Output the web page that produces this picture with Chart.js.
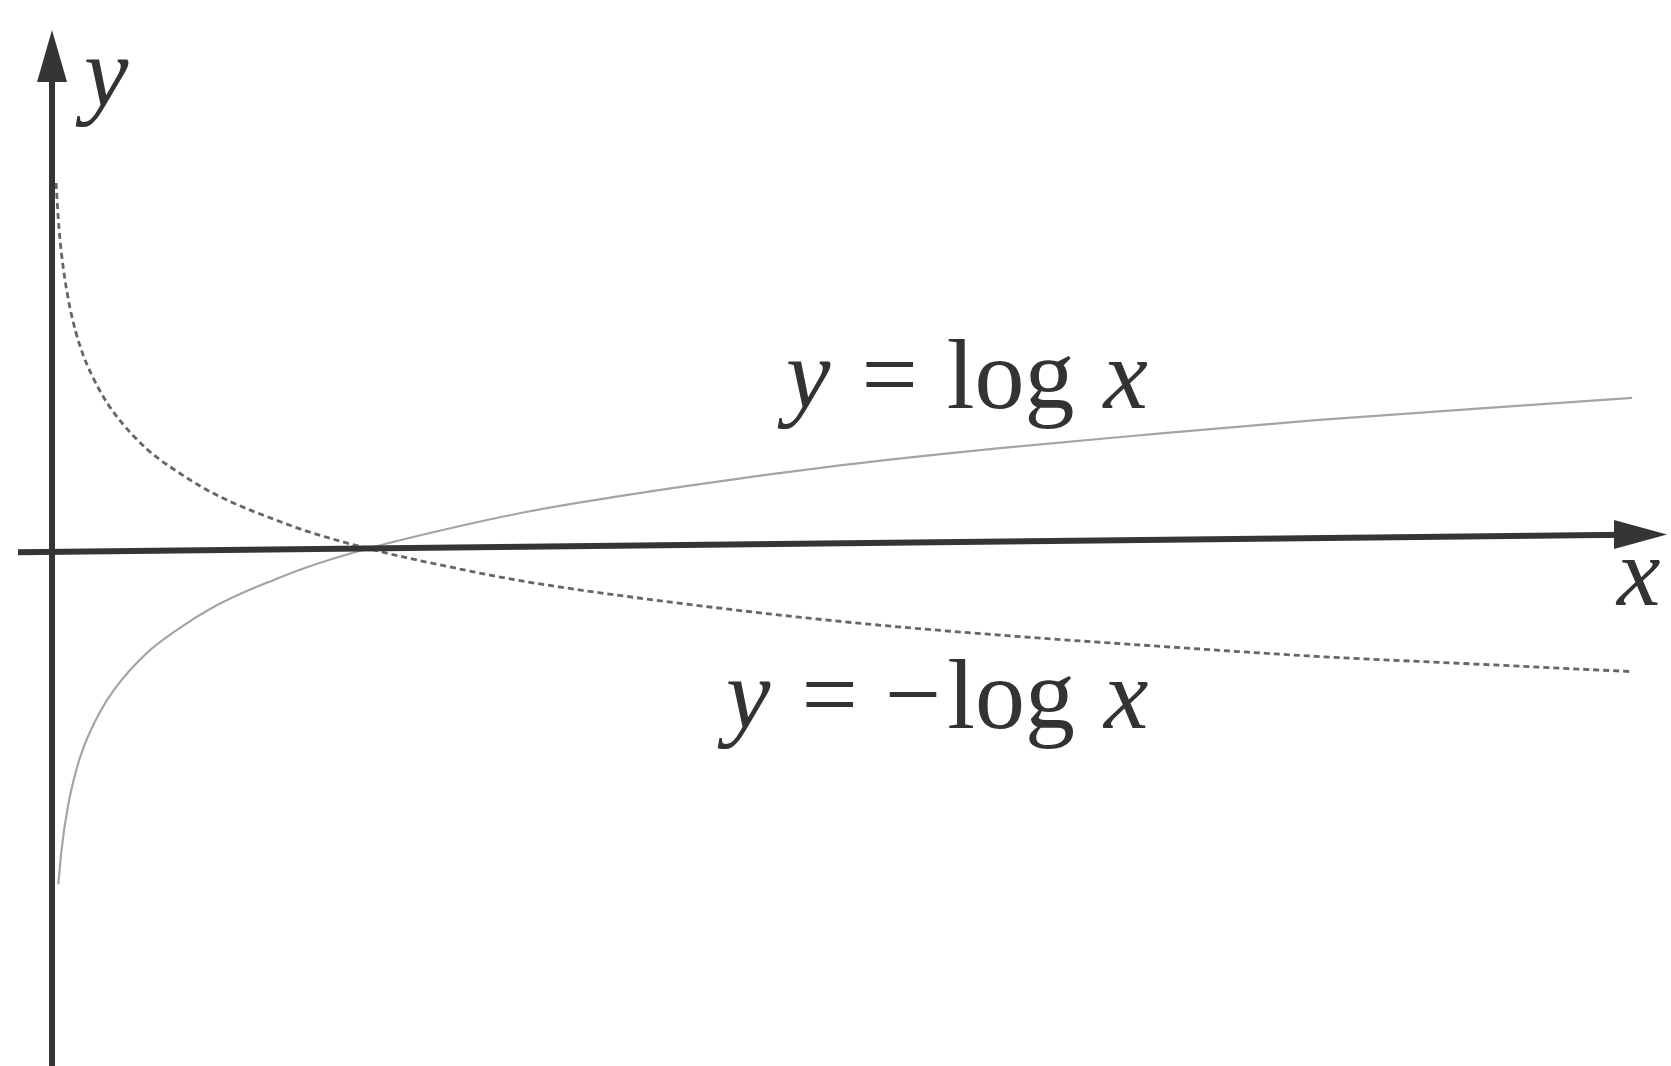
<!doctype html>
<html>
<head>
  <meta charset="utf-8">
  <script src="https://cdn.jsdelivr.net/npm/chart.js@4/dist/chart.umd.min.js"></script>
  <style>
    html, body { margin: 0; padding: 0; background: #fff; }
    #wrap { width: 1671px; height: 1066px; position: relative; }
  </style>
</head>
<body>
  <div id="wrap"><canvas id="canvas"></canvas></div>
  <script>
    // x positions where the curves are sampled
    const xs = [0.013, 0.02, 0.03, 0.05, 0.075, 0.1, 0.15, 0.2, 0.3, 0.4, 0.5, 0.6, 0.7, 0.8, 1.0,
                1.25, 1.5, 2, 2.5, 3, 3.5, 4, 4.5, 5];
    // y = log x (solid)
    const logY = [-4.34, -3.91, -3.51, -3.00, -2.59, -2.30, -1.90, -1.61, -1.20, -0.92, -0.69, -0.51,
                  -0.36, -0.22, 0, 0.22, 0.41, 0.69, 0.92, 1.10, 1.25, 1.39, 1.50, 1.61];
    // y = -log x (dashed)
    const negLogY = [4.34, 3.91, 3.51, 3.00, 2.59, 2.30, 1.90, 1.61, 1.20, 0.92, 0.69, 0.51,
                     0.36, 0.22, 0, -0.22, -0.41, -0.69, -0.92, -1.10, -1.25, -1.39, -1.50, -1.61];
    const solidStart = 1; // solid curve starts a little later, it hugs the y axis

    const toPoints = (ys, from) => xs.slice(from).map((x, i) => ({x: x, y: ys[i + from]}));

    const SERIF = '"Liberation Serif", "DejaVu Serif", serif';
    const SKEW = -0.0109; // the scanned figure's x axis runs slightly uphill

    // draws pieces of text with mixed italic / upright runs, gap = extra space after a run
    function drawRuns(ctx, runs, x, y, size) {
      let cx = x;
      runs.forEach(([txt, italic, gap]) => {
        ctx.font = (italic ? 'italic ' : '') + size + 'px ' + SERIF;
        ctx.fillText(txt, cx, y);
        cx += ctx.measureText(txt).width + (gap || 0);
      });
    }

    const skewPlugin = {
      id: 'skew',
      beforeDatasetsDraw(chart) {
        chart.ctx.save();
        chart.ctx.transform(1, SKEW, 0, 1, 0, 0);
      },
      afterDatasetsDraw(chart) {
        chart.ctx.restore();
      }
    };

    const axesPlugin = {
      id: 'axes',
      afterDatasetsDraw(chart) {
        const ctx = chart.ctx;
        const x0 = chart.scales.x.getPixelForValue(0);
        const y0 = chart.scales.y.getPixelForValue(0);
        const area = chart.chartArea;
        ctx.save();
        ctx.transform(1, SKEW, 0, 1, 0, 0);
        ctx.strokeStyle = '#353535';
        ctx.fillStyle = '#353535';
        ctx.lineWidth = 6;
        // x axis
        ctx.beginPath();
        ctx.moveTo(18, y0);
        ctx.lineTo(1625, y0);
        ctx.stroke();
        ctx.beginPath();
        ctx.moveTo(1667, y0);
        ctx.lineTo(1614, y0 - 15);
        ctx.lineTo(1614, y0 + 14);
        ctx.closePath();
        ctx.fill();
        ctx.restore();

        ctx.save();
        ctx.strokeStyle = '#353535';
        ctx.fillStyle = '#353535';
        ctx.lineWidth = 6;
        // y axis
        ctx.beginPath();
        ctx.moveTo(x0, area.bottom);
        ctx.lineTo(x0, 70);
        ctx.stroke();
        ctx.beginPath();
        ctx.moveTo(x0, 30);
        ctx.lineTo(x0 - 15, 82);
        ctx.lineTo(x0 + 15, 82);
        ctx.closePath();
        ctx.fill();

        // labels
        ctx.fillStyle = '#333';
        ctx.textBaseline = 'alphabetic';
        drawRuns(ctx, [['y', true]], 84, 106, 100);
        drawRuns(ctx, [['x', true]], 1617, 605, 98);
        drawRuns(ctx, [['y', true, 6], [' = ', false, 4], ['log ', false, 4], ['x', true]], 786, 408, 100);
        drawRuns(ctx, [['y', true, 6], [' = ', false, 2], ['\u2212', false, 6], ['log ', false, 4], ['x', true]], 726, 728, 100);
        ctx.restore();
      }
    };

    new Chart(document.getElementById('canvas').getContext('2d'), {
      type: 'scatter',
      data: {
        datasets: [{
          label: 'y = log x',
          data: toPoints(logY, solidStart),
          showLine: true,
          borderColor: '#a4a4a4',
          borderWidth: 2.2,
          pointRadius: 0,
          cubicInterpolationMode: 'monotone'
        }, {
          label: 'y = -log x',
          data: toPoints(negLogY, 0),
          showLine: true,
          borderColor: '#666666',
          borderWidth: 2.8,
          borderDash: [6, 4],
          pointRadius: 0,
          cubicInterpolationMode: 'monotone'
        }]
      },
      options: {
        responsive: true,
        maintainAspectRatio: false,
        animation: false,
        layout: { padding: 0 },
        plugins: { legend: { display: false }, tooltip: { enabled: false } },
        scales: {
          x: { type: 'linear', min: -0.1646, max: 5.123, display: false },
          y: { type: 'linear', min: -6.04, max: 6.50, display: false }
        }
      },
      plugins: [skewPlugin, axesPlugin]
    });
  </script>
</body>
</html>
